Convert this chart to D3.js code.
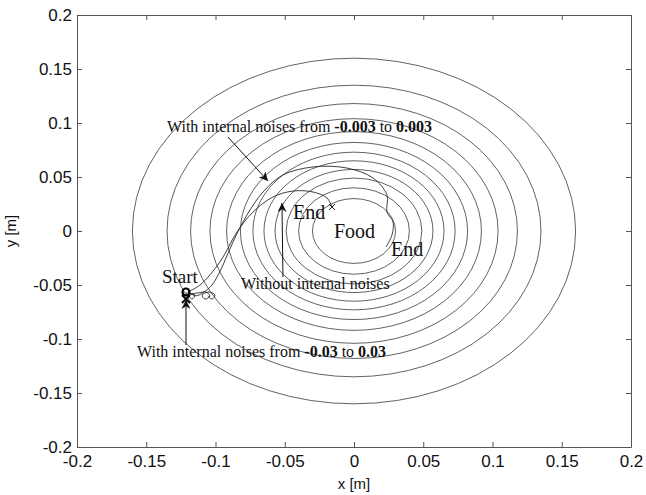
<!DOCTYPE html>
<html lang="en">
<head>
<meta charset="UTF-8">
<title>Trajectories</title>
<script src="https://cdnjs.cloudflare.com/ajax/libs/d3/7.8.5/d3.min.js"></script>
<style>
  body { margin: 0; background: #fff; }
</style>
</head>
<body>
<script>
// contour radii of the food field [m]
const contourRadii = [0.03, 0.04, 0.049, 0.057, 0.065, 0.073, 0.082, 0.092, 0.104, 0.118, 0.135, 0.16];

// ticks
const tickValues = [-0.2, -0.15, -0.1, -0.05, 0, 0.05, 0.1, 0.15, 0.2];
const tickLabels = ["-0.2", "-0.15", "-0.1", "-0.05", "0", "0.05", "0.1", "0.15", "0.2"];

// trajectory without internal noises
const trajNoNoise = [
  [-0.120, -0.0565], [-0.1112, -0.050], [-0.0968, -0.0287], [-0.0845, -0.0009],
  [-0.0729, 0.0176], [-0.0585, 0.0315], [-0.0440, 0.0370], [-0.0296, 0.0361],
  [-0.0195, 0.0306], [-0.0159, 0.0222]
];

// trajectory with internal noises from -0.003 to 0.003
const trajSmallNoise = [
  [-0.120, -0.0565], [-0.114, -0.060], [-0.109, -0.057], [-0.1025, -0.050],
  [-0.0946, -0.0315], [-0.0874, -0.0102], [-0.0773, 0.0148], [-0.0657, 0.0361],
  [-0.0513, 0.0519], [-0.0296, 0.0593], [-0.0051, 0.0583], [0.0137, 0.0491],
  [0.0238, 0.0333], [0.0238, 0.0176], [0.0282, 0.0083], [0.0274, -0.0037],
  [0.0231, -0.0148]
];

// trajectory with internal noises from -0.03 to 0.03 (stays near start)
const trajBigNoise = [
  [-0.1213, -0.0565], [-0.1170, -0.0630], [-0.1148, -0.0593], [-0.1184, -0.0583],
  [-0.1126, -0.0574], [-0.1069, -0.0565], [-0.1040, -0.0602], [-0.1076, -0.0630],
  [-0.1097, -0.0593], [-0.1047, -0.0565], [-0.1004, -0.0593], [-0.1025, -0.0630],
  [-0.1054, -0.0602]
];

const startPoint = [-0.1213, -0.0565];
const endNoNoise = [-0.0159, 0.0222];

// annotation arrows [from, to]
const arrows = [
  [[-0.0910, 0.0870], [-0.0621, 0.0463]],
  [[-0.0513, -0.0426], [-0.0520, 0.0259]],
  [[-0.1213, -0.1056], [-0.1213, -0.0639]]
];

window.onload = function() {
  const W = 646, H = 495;
  const svg = d3.select('body').append('svg')
    .attr('width', W).attr('height', H)
    .style('font-family', 'Liberation Sans, Arial, sans-serif');

  const x = d3.scaleLinear().domain([-0.2, 0.2]).range([77, 631]);
  const y = d3.scaleLinear().domain([-0.2, 0.2]).range([447, 15]);

  svg.append('defs').append('marker')
    .attr('id', 'head')
    .attr('viewBox', '0 0 10 10')
    .attr('refX', 10).attr('refY', 5)
    .attr('markerWidth', 9).attr('markerHeight', 9)
    .attr('markerUnits', 'userSpaceOnUse')
    .attr('orient', 'auto')
    .append('path')
    .attr('d', 'M0,0 L10,5 L0,10 L3,5 Z')
    .attr('fill', '#111');

  // contours
  svg.append('g').selectAll('ellipse')
    .data(contourRadii)
    .join('ellipse')
    .attr('cx', x(0)).attr('cy', y(0))
    .attr('rx', r => x(r) - x(0))
    .attr('ry', r => y(0) - y(r))
    .attr('fill', 'none')
    .attr('stroke', '#3a3a3a')
    .attr('stroke-width', 0.8);

  // trajectories
  const line = d3.line().x(d => x(d[0])).y(d => y(d[1])).curve(d3.curveCatmullRom.alpha(0.5));
  [trajNoNoise, trajSmallNoise, trajBigNoise].forEach(t => {
    svg.append('path')
      .attr('d', line(t))
      .attr('fill', 'none')
      .attr('stroke', '#2a2a2a')
      .attr('stroke-width', 0.9);
  });

  // end cross marker
  svg.append('path')
    .attr('d', `M${x(endNoNoise[0]) - 3},${y(endNoNoise[1]) - 3} l6,6 M${x(endNoNoise[0]) + 3},${y(endNoNoise[1]) - 3} l-6,6`)
    .attr('stroke', '#222').attr('stroke-width', 1);

  // start marker
  svg.append('circle')
    .attr('cx', x(startPoint[0])).attr('cy', y(startPoint[1]))
    .attr('r', 3.5)
    .attr('fill', 'none').attr('stroke', '#000').attr('stroke-width', 2.2);
  svg.append('path')
    .attr('d', `M${x(startPoint[0]) - 4},${y(startPoint[1]) + 3} l8,8 M${x(startPoint[0]) + 4},${y(startPoint[1]) + 3} l-8,8`)
    .attr('stroke', '#000').attr('stroke-width', 2);

  // arrows
  svg.append('g').selectAll('line')
    .data(arrows)
    .join('line')
    .attr('x1', d => x(d[0][0])).attr('y1', d => y(d[0][1]))
    .attr('x2', d => x(d[1][0])).attr('y2', d => y(d[1][1]))
    .attr('stroke', '#111').attr('stroke-width', 1)
    .attr('marker-end', 'url(#head)');

  // axes
  const fmt = (d, i) => tickLabels[i];
  svg.append('g').attr('transform', `translate(0,${y(-0.2)})`)
    .call(d3.axisBottom(x).tickValues(tickValues).tickFormat(fmt).tickSizeInner(-5).tickSizeOuter(0).tickPadding(8));
  svg.append('g').attr('transform', `translate(0,${y(0.2)})`)
    .call(d3.axisTop(x).tickValues(tickValues).tickFormat('').tickSizeInner(-5).tickSizeOuter(0));
  const gy = svg.append('g').attr('transform', `translate(${x(-0.2)},0)`)
    .call(d3.axisLeft(y).tickValues(tickValues).tickFormat(fmt).tickSizeInner(-5).tickSizeOuter(0).tickPadding(5));
  svg.append('g').attr('transform', `translate(${x(0.2)},0)`)
    .call(d3.axisRight(y).tickValues(tickValues).tickFormat('').tickSizeInner(-5).tickSizeOuter(0));

  svg.selectAll('.domain, .tick line').attr('stroke', '#555').attr('stroke-width', 1);
  svg.selectAll('.tick text')
    .attr('fill', '#111')
    .style('font-size', '17px')
    .style('font-family', 'Liberation Sans, Arial, sans-serif');
  gy.selectAll('.tick text').attr('dy', '0.35em');

  svg.append('text')
    .attr('x', x(0)).attr('y', 489)
    .attr('text-anchor', 'middle')
    .style('font-size', '15px').attr('fill', '#111')
    .text('x [m]');
  svg.append('text')
    .attr('transform', `translate(16,${y(0)}) rotate(-90)`)
    .attr('text-anchor', 'middle')
    .style('font-size', '15px').attr('fill', '#111')
    .text('y [m]');

  // annotations
  const ann = svg.append('g')
    .style('font-family', 'Liberation Serif, Times New Roman, serif')
    .attr('fill', '#111');

  const t1 = ann.append('text').attr('x', 167).attr('y', 132).style('font-size', '16px');
  t1.append('tspan').text('With internal noises from ');
  t1.append('tspan').style('font-weight', 'bold').text('-0.003');
  t1.append('tspan').text(' to ');
  t1.append('tspan').style('font-weight', 'bold').text('0.003');

  ann.append('text').attr('x', 241).attr('y', 289).style('font-size', '16px')
    .text('Without internal noises');

  const t3 = ann.append('text').attr('x', 137).attr('y', 357).style('font-size', '16px');
  t3.append('tspan').text('With internal noises from ');
  t3.append('tspan').style('font-weight', 'bold').text('-0.03');
  t3.append('tspan').text(' to ');
  t3.append('tspan').style('font-weight', 'bold').text('0.03');

  ann.append('text').attr('x', 293).attr('y', 219).style('font-size', '20px').text('End');
  ann.append('text').attr('x', 334).attr('y', 238).style('font-size', '20px').text('Food');
  ann.append('text').attr('x', 391).attr('y', 256).style('font-size', '20px').text('End');
  ann.append('text').attr('x', 162).attr('y', 283).style('font-size', '19px').text('Start');
};
</script>
</body>
</html>
